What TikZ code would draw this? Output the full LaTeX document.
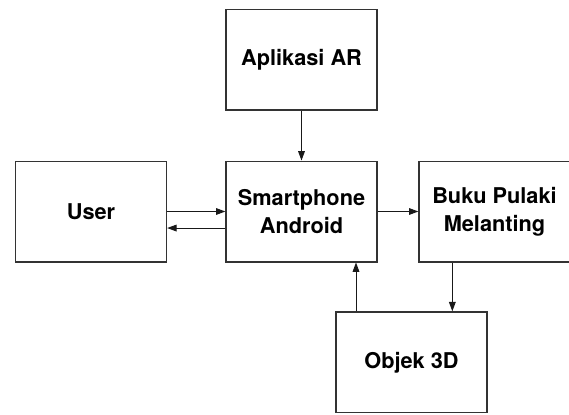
\documentclass[tikz,border=0pt]{standalone}
\usepackage{fontspec}
\setmainfont{TeX Gyre Heros}
\usetikzlibrary{arrows.meta}
\begin{document}
\begin{tikzpicture}[x=0.75pt,y=-0.75pt,
  blk/.style={draw=black!80, line width=1pt, minimum width=113.25pt, minimum height=75.5pt,
    inner sep=0pt, align=center, font=\fontsize{16.3}{21}\selectfont\bfseries},
  arr/.style={draw=black!90, line width=0.75pt, -{Triangle[length=7pt,width=5pt]}}]
\useasboundingbox (0,0) rectangle (569,415);
\node[blk] (apl) at (301.5,59.75) {Aplikasi AR};
\node[blk] (us) at (91,211.5) {User};
\node[blk] (sm) at (301.5,211.5) {Smartphone\\Android};
\node[blk] (bk) at (494.5,211.5) {Buku Pulaki\\Melanting};
\node[blk] (obj) at (411.5,362.3) {Objek 3D};
\draw[arr] (apl.south) -- (sm.north);
\draw[arr] (us.east) -- (sm.west);
\coordinate (r1) at ([yshift=-12.4pt]sm.west);
\draw[arr] (r1) -- (r1 -| us.east);
\draw[arr] (sm.east) -- (bk.west);
\coordinate (o1) at ([xshift=15.5pt]obj.north west);
\draw[arr] (o1) -- (o1 |- sm.south);
\coordinate (b1) at ([xshift=25.5pt]bk.south west);
\draw[arr] (b1) -- (b1 |- obj.north);
\end{tikzpicture}
\end{document}
